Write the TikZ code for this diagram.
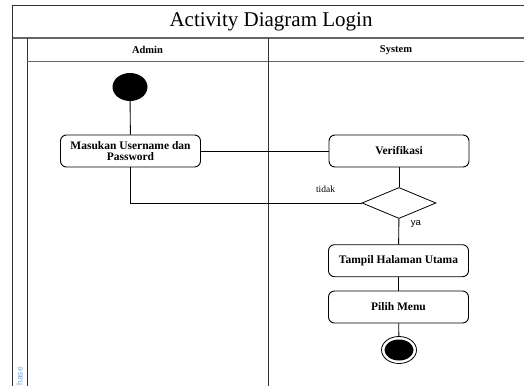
\documentclass[tikz,border=0pt]{standalone}
\usepackage{fontspec}
\setmainfont{Liberation Serif}
\newfontfamily\labelsans{Liberation Sans}
\usetikzlibrary{shapes.geometric}
\definecolor{frameline}{HTML}{333333}
\definecolor{bandline}{HTML}{666666}
\definecolor{phaseblue}{HTML}{7EA6E0}
\tikzset{
  act/.style={draw=black, line width=0.9pt, rounded corners=6pt,
    minimum width=140pt, minimum height=32pt, inner sep=2pt, align=center,
    font=\fontsize{11.5}{10.5}\selectfont\bfseries},
  decision/.style={draw=black, line width=0.8pt, shape=diamond, aspect=2.39,
    minimum width=74pt, minimum height=31pt, inner sep=0pt},
  startnode/.style={shape=ellipse, fill=black, minimum width=35pt,
    minimum height=28pt, inner sep=0pt},
  endnode/.style={shape=ellipse, draw=black, line width=0.8pt, fill=white,
    minimum width=35pt, minimum height=27pt, inner sep=0pt},
  flow/.style={draw=black, line width=0.9pt},
  lanehead/.style={font=\fontsize{10.5}{12}\selectfont\bfseries},
  guard/.style={font=\fontsize{9.5}{11}\selectfont, inner sep=0pt},
}
\begin{document}
\begin{tikzpicture}[x=1pt, y=-1pt]
  \useasboundingbox[clip] (0,0) rectangle (524,385);
  \fill[white] (0,0) rectangle (524,385);

  % pool frame, title band and swimlanes
  \draw[frameline, line width=0.9pt] (12.5,400) -- (12.5,5) -- (530,5);
  \draw[bandline, line width=1.4pt] (12.5,38) -- (530,38);
  \draw[frameline, line width=0.9pt] (27,38) -- (27,400);
  \draw[bandline, line width=1pt] (27,61.5) -- (530,61.5);
  \draw[frameline, line width=0.9pt] (268,38) -- (268,400);

  \node[font=\fontsize{21}{24}\selectfont] (title) at (271,22) {Activity Diagram Login};
  \node[lanehead] (admin) at (147.5,50) {Admin};
  \node[lanehead] (system) at (396,50) {System};
  \node[text=phaseblue, font=\labelsans\fontsize{8.5}{10}\selectfont, rotate=90,
    anchor=east, inner sep=0pt] (phase) at (19.5,367) {Phase};

  % activities
  \node[startnode] (start) at (130,87) {};
  \node[act] (input) at (130.5,151) {Masukan Username dan\\Password};
  \node[act] (verify) at (399,151) {Verifikasi};
  \node[decision] (check) at (399,203) {};
  \node[act] (home) at (398.5,260.7) {Tampil Halaman Utama};
  \node[act] (menu) at (398.5,307) {Pilih Menu};
  \node[endnode] (finish) at (399,350) {};
  \fill[black] (finish.center) ellipse (14.5pt and 10.5pt);

  % control flow
  \draw[flow] (start) -- (input);
  \draw[flow] (input) -- (verify);
  \draw[flow] (verify) -- (check);
  \draw[flow] (check.west) -| (input.south);
  \draw[flow] (check) -- (home);
  \draw[flow] (home) -- (menu);
  \draw[flow] (menu) -- (finish);

  % guards
  \node[guard] (no) at (325.5,189) {tidak};
  \node[guard, font=\labelsans\fontsize{9.5}{11}\selectfont] (yes) at (416,224) {ya};
\end{tikzpicture}
\end{document}
